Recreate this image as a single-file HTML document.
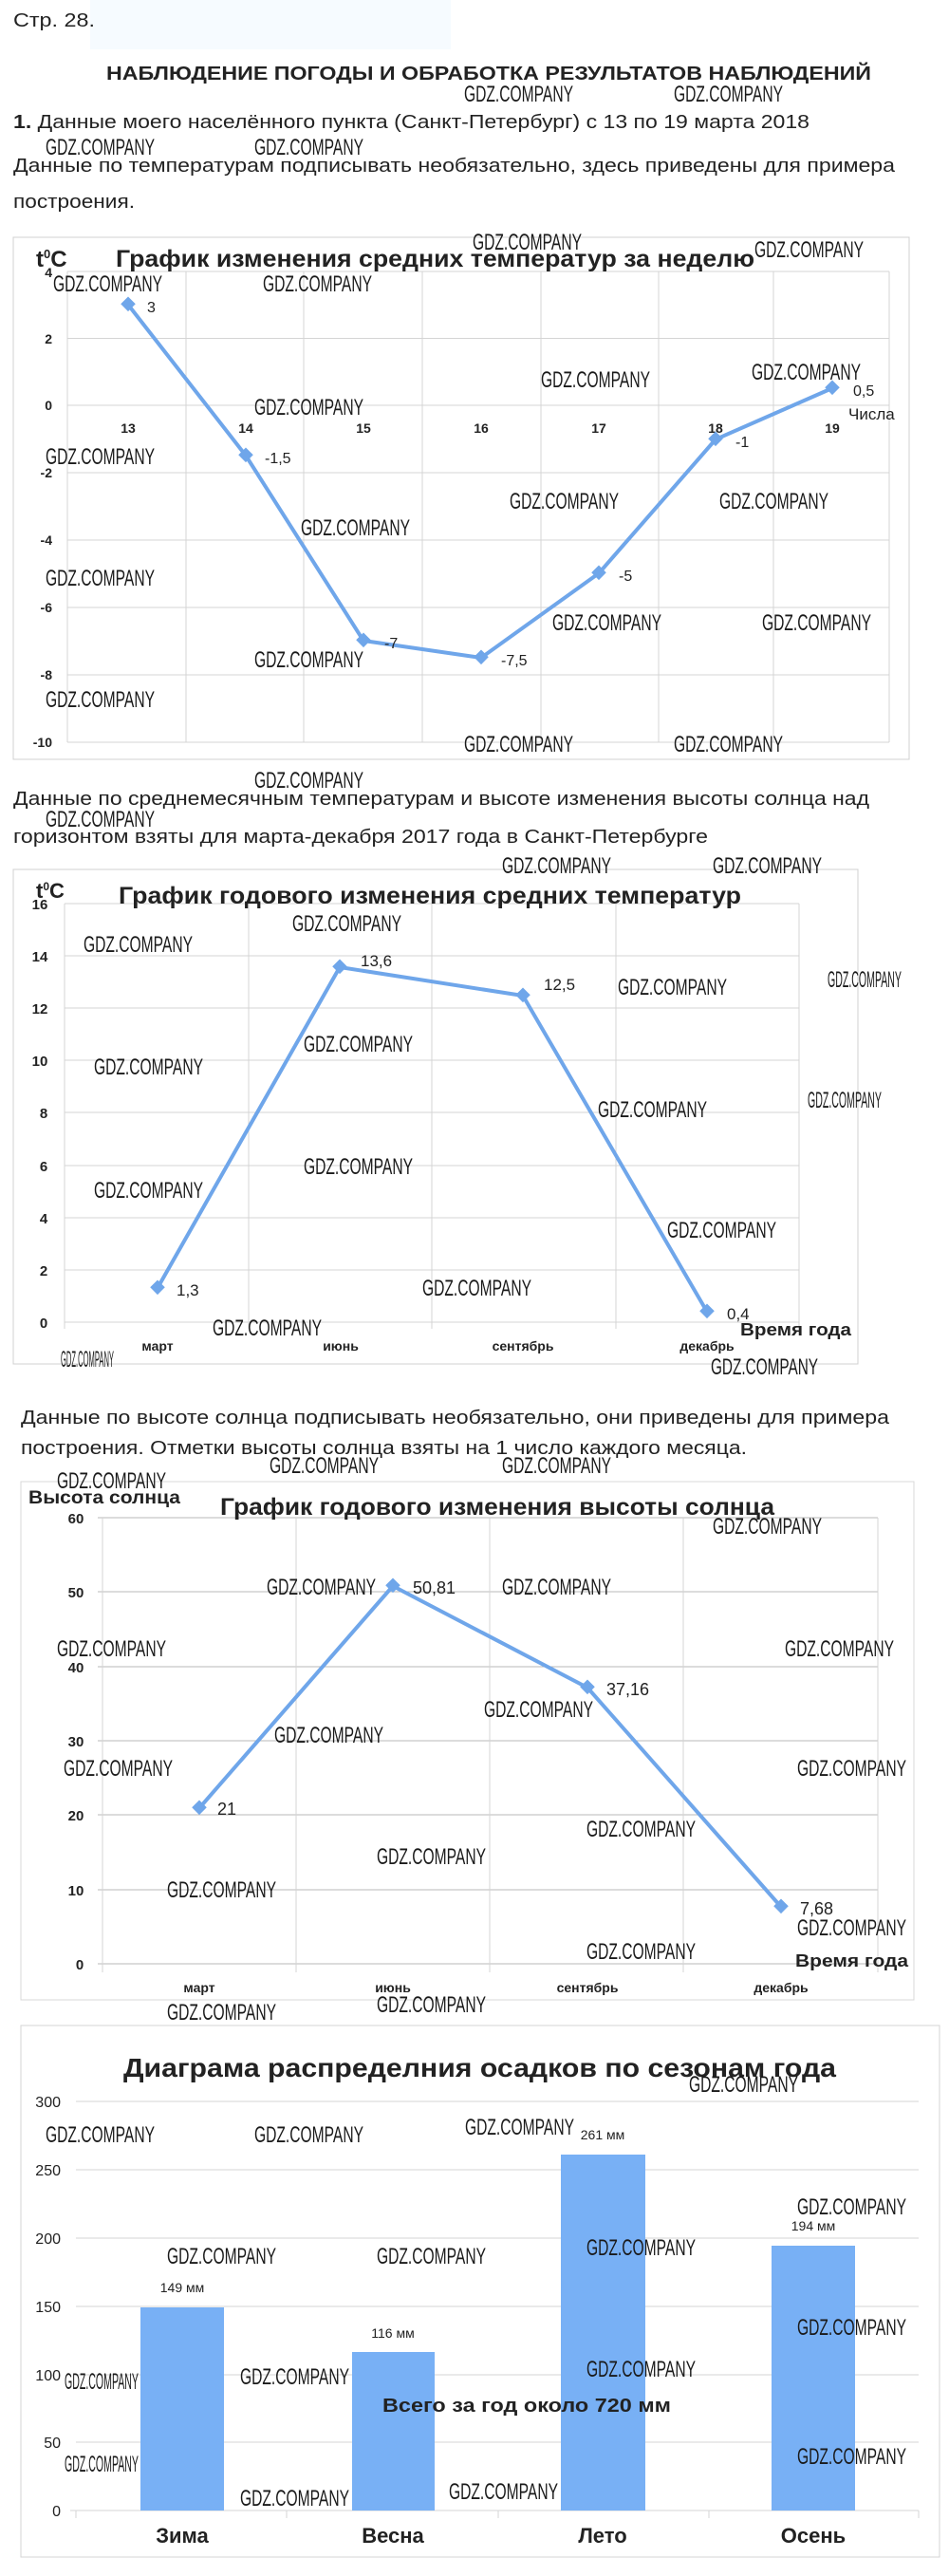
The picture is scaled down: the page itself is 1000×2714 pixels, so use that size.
<!DOCTYPE html>
<html><head><meta charset="utf-8"><style>
html,body{margin:0;padding:0;background:#fff;}
svg{display:block;}
.t{font-family:"Liberation Sans","Noto Sans CJK SC",sans-serif;fill:#222;}
.b{font-family:"Liberation Sans","Noto Sans CJK SC",sans-serif;font-weight:bold;fill:#222;}
.w{font-family:"Liberation Sans Narrow","Liberation Sans",sans-serif;fill:#1a1a1a;font-size:24px;}
.g{stroke:#d4d4d4;stroke-width:1;}
.g2{stroke:#b8b8b8;stroke-width:1;}
.ln{fill:none;stroke:#6fa6ea;stroke-width:4;stroke-linejoin:round;}
.mk{fill:#6fa6ea;}
</style></head><body>
<svg width="1000" height="2714" viewBox="0 0 1000 2714" xmlns="http://www.w3.org/2000/svg">
<rect x="0" y="0" width="1000" height="2714" fill="#fff"/>
<rect x="95" y="0" width="380" height="52" fill="#f6fbff"/>
<!-- header text -->
<text class="t" x="14" y="28" font-size="20" textLength="86" lengthAdjust="spacingAndGlyphs">Стр. 28.</text>
<text class="b" x="112" y="84" font-size="20" textLength="806" lengthAdjust="spacingAndGlyphs">НАБЛЮДЕНИЕ ПОГОДЫ И ОБРАБОТКА РЕЗУЛЬТАТОВ НАБЛЮДЕНИЙ</text>
<text class="t" x="14" y="135" font-size="20" textLength="839" lengthAdjust="spacingAndGlyphs"><tspan font-weight="bold">1.</tspan> Данные моего населённого пункта (Санкт-Петербург) с 13 по 19 марта 2018</text>
<text class="t" x="14" y="181" font-size="20" textLength="929" lengthAdjust="spacingAndGlyphs">Данные по температурам подписывать необязательно, здесь приведены для примера</text>
<text class="t" x="14" y="219" font-size="20" textLength="128" lengthAdjust="spacingAndGlyphs">построения.</text>

<!-- CHART 1 -->
<rect x="14" y="250" width="944" height="550" fill="none" stroke="#d0d0d0"/>
<g class="g">
<line x1="71" y1="286" x2="937" y2="286"/><line x1="71" y1="356.5" x2="937" y2="356.5"/><line x1="71" y1="427" x2="937" y2="427"/>
<line x1="71" y1="498" x2="937" y2="498"/><line x1="71" y1="569" x2="937" y2="569"/><line x1="71" y1="640" x2="937" y2="640"/>
<line x1="71" y1="711" x2="937" y2="711"/><line x1="71" y1="782" x2="937" y2="782"/>
<line x1="71" y1="286" x2="71" y2="782"/><line x1="196" y1="286" x2="196" y2="782"/><line x1="320" y1="286" x2="320" y2="782"/>
<line x1="445" y1="286" x2="445" y2="782"/><line x1="570" y1="286" x2="570" y2="782"/><line x1="694" y1="286" x2="694" y2="782"/>
<line x1="815" y1="286" x2="815" y2="782"/><line x1="937" y1="286" x2="937" y2="782"/>
</g>
<g class="b" font-size="14" text-anchor="end">
<text x="55" y="292">4</text><text x="55" y="362">2</text><text x="55" y="432">0</text><text x="55" y="503">-2</text>
<text x="55" y="574">-4</text><text x="55" y="645">-6</text><text x="55" y="716">-8</text><text x="55" y="787">-10</text>
</g>
<text class="b" x="38" y="281" font-size="24">t<tspan font-size="13" dy="-9">0</tspan><tspan dy="9">C</tspan></text>
<text class="b" x="122" y="281" font-size="25" textLength="673" lengthAdjust="spacingAndGlyphs">График изменения средних температур за неделю</text>
<g class="b" font-size="14" text-anchor="middle">
<text x="135" y="456">13</text><text x="259" y="456">14</text><text x="383" y="456">15</text><text x="507" y="456">16</text>
<text x="631" y="456">17</text><text x="754" y="456">18</text><text x="877" y="456">19</text>
</g>
<text class="t" x="894" y="442" font-size="17">Числа</text>
<polyline class="ln" points="135,321 259,480 383,675 507,693 631,604 754,463 877,409"/>
<g class="mk">
<rect x="129" y="315" width="11" height="11" transform="rotate(45 135 321)"/><rect x="253" y="474" width="11" height="11" transform="rotate(45 259 480)"/>
<rect x="377" y="669" width="11" height="11" transform="rotate(45 383 675)"/><rect x="501" y="687" width="11" height="11" transform="rotate(45 507 693)"/>
<rect x="625" y="598" width="11" height="11" transform="rotate(45 631 604)"/><rect x="748" y="457" width="11" height="11" transform="rotate(45 754 463)"/>
<rect x="871" y="403" width="11" height="11" transform="rotate(45 877 409)"/>
</g>
<g class="t" font-size="16">
<text x="155" y="329">3</text><text x="279" y="488">-1,5</text><text x="405" y="683">-7</text><text x="528" y="701">-7,5</text>
<text x="652" y="612">-5</text><text x="775" y="471">-1</text><text x="899" y="417">0,5</text>
</g>

<!-- text between -->
<text class="t" x="14" y="848" font-size="20" textLength="902" lengthAdjust="spacingAndGlyphs">Данные по среднемесячным температурам и высоте изменения высоты солнца над</text>
<text class="t" x="14" y="888" font-size="20" textLength="732" lengthAdjust="spacingAndGlyphs">горизонтом взяты для марта-декабря 2017 года в Санкт-Петербурге</text>

<!-- CHART 2 -->
<rect x="14" y="916" width="890" height="521" fill="none" stroke="#d0d0d0"/>
<g class="g">
<line x1="68" y1="952" x2="842" y2="952"/><line x1="68" y1="1007" x2="842" y2="1007"/><line x1="68" y1="1062" x2="842" y2="1062"/>
<line x1="68" y1="1117" x2="842" y2="1117"/><line x1="68" y1="1172" x2="842" y2="1172"/><line x1="68" y1="1228" x2="842" y2="1228"/>
<line x1="68" y1="1283" x2="842" y2="1283"/><line x1="68" y1="1338" x2="842" y2="1338"/><line x1="68" y1="1393" x2="842" y2="1393"/>
<line x1="68" y1="952" x2="68" y2="1400"/><line x1="262" y1="952" x2="262" y2="1400"/><line x1="455" y1="952" x2="455" y2="1400"/>
<line x1="649" y1="952" x2="649" y2="1400"/><line x1="842" y1="952" x2="842" y2="1400"/>
</g>
<g class="b" font-size="15" text-anchor="middle">
<text x="42" y="958">16</text><text x="42" y="1013">14</text><text x="42" y="1068">12</text><text x="42" y="1123">10</text>
<text x="46" y="1178">8</text><text x="46" y="1234">6</text><text x="46" y="1289">4</text><text x="46" y="1344">2</text><text x="46" y="1399">0</text>
</g>
<text class="b" x="38" y="946" font-size="22">t<tspan font-size="12" dy="-8">0</tspan><tspan dy="8">C</tspan></text>
<text class="b" x="125" y="952" font-size="25" textLength="656" lengthAdjust="spacingAndGlyphs">График годового изменения средних температур</text>
<g class="b" font-size="14" text-anchor="middle">
<text x="166" y="1423">март</text><text x="359" y="1423">июнь</text><text x="551" y="1423">сентябрь</text><text x="745" y="1423">декабрь</text>
</g>
<text class="b" x="780" y="1407" font-size="18" textLength="117" lengthAdjust="spacingAndGlyphs">Время года</text>
<polyline class="ln" points="166,1357 358,1019 551,1049 745,1382"/>
<g class="mk">
<rect x="160" y="1351" width="11" height="11" transform="rotate(45 166 1357)"/><rect x="352" y="1013" width="11" height="11" transform="rotate(45 358 1019)"/>
<rect x="545" y="1043" width="11" height="11" transform="rotate(45 551 1049)"/><rect x="739" y="1376" width="11" height="11" transform="rotate(45 745 1382)"/>
</g>
<g class="t" font-size="17">
<text x="186" y="1365">1,3</text><text x="380" y="1018">13,6</text><text x="573" y="1043">12,5</text><text x="766" y="1390">0,4</text>
</g>

<text class="t" x="22" y="1500" font-size="20" textLength="915" lengthAdjust="spacingAndGlyphs">Данные по высоте солнца подписывать необязательно, они приведены для примера</text>
<text class="t" x="22" y="1532" font-size="20" textLength="765" lengthAdjust="spacingAndGlyphs">построения. Отметки высоты солнца взяты на 1 число каждого месяца.</text>

<!-- CHART 3 -->
<rect x="22" y="1561" width="941" height="546" fill="none" stroke="#d8d8d8"/>
<g class="g2">
<line x1="103" y1="1599" x2="925" y2="1599"/><line x1="103" y1="1677" x2="925" y2="1677"/><line x1="103" y1="1756" x2="925" y2="1756"/>
<line x1="103" y1="1834" x2="925" y2="1834"/><line x1="103" y1="1912" x2="925" y2="1912"/><line x1="103" y1="1991" x2="925" y2="1991"/>
<line x1="103" y1="2069" x2="925" y2="2069"/>
</g>
<g class="g">
<line x1="108" y1="1599" x2="108" y2="2078"/><line x1="312" y1="1599" x2="312" y2="2078"/><line x1="516" y1="1599" x2="516" y2="2078"/>
<line x1="720" y1="1599" x2="720" y2="2078"/><line x1="925" y1="1599" x2="925" y2="2078"/>
</g>
<g class="b" font-size="15" text-anchor="middle">
<text x="80" y="1605">60</text><text x="80" y="1683">50</text><text x="80" y="1762">40</text><text x="80" y="1840">30</text>
<text x="80" y="1918">20</text><text x="80" y="1997">10</text><text x="84" y="2075">0</text>
</g>
<text class="b" x="30" y="1584" font-size="19" textLength="160" lengthAdjust="spacingAndGlyphs">Высота солнца</text>
<text class="b" x="232" y="1596" font-size="25" textLength="584" lengthAdjust="spacingAndGlyphs">График годового изменения высоты солнца</text>
<g class="b" font-size="14" text-anchor="middle">
<text x="210" y="2099">март</text><text x="414" y="2099">июнь</text><text x="619" y="2099">сентябрь</text><text x="823" y="2099">декабрь</text>
</g>
<text class="b" x="838" y="2072" font-size="18" textLength="119" lengthAdjust="spacingAndGlyphs">Время года</text>
<polyline class="ln" points="210,1905 414,1671 619,1778 823,2009"/>
<g class="mk">
<rect x="204" y="1899" width="11" height="11" transform="rotate(45 210 1905)"/><rect x="408" y="1665" width="11" height="11" transform="rotate(45 414 1671)"/>
<rect x="613" y="1772" width="11" height="11" transform="rotate(45 619 1778)"/><rect x="817" y="2003" width="11" height="11" transform="rotate(45 823 2009)"/>
</g>
<g class="t" font-size="18">
<text x="229" y="1912">21</text><text x="435" y="1679">50,81</text><text x="639" y="1786">37,16</text><text x="843" y="2017">7,68</text>
</g>

<!-- CHART 4 -->
<rect x="22" y="2134" width="968" height="560" fill="none" stroke="#d4d4d4"/>
<text class="b" x="130" y="2188" font-size="28" textLength="751" lengthAdjust="spacingAndGlyphs">Диаграма распределния осадков по сезонам года</text>
<g class="g">
<line x1="80" y1="2214" x2="968" y2="2214"/><line x1="80" y1="2286" x2="968" y2="2286"/><line x1="80" y1="2358" x2="968" y2="2358"/>
<line x1="80" y1="2430" x2="968" y2="2430"/><line x1="80" y1="2502" x2="968" y2="2502"/><line x1="80" y1="2573" x2="968" y2="2573"/>
<line x1="74" y1="2645" x2="968" y2="2645"/>
<line x1="80" y1="2645" x2="80" y2="2653"/><line x1="302" y1="2645" x2="302" y2="2653"/><line x1="525" y1="2645" x2="525" y2="2653"/>
<line x1="747" y1="2645" x2="747" y2="2653"/><line x1="968" y1="2645" x2="968" y2="2653"/>
</g>
<g class="t" font-size="16" text-anchor="end" fill="#333">
<text x="64" y="2220">300</text><text x="64" y="2292">250</text><text x="64" y="2364">200</text><text x="64" y="2436">150</text>
<text x="64" y="2508">100</text><text x="64" y="2579">50</text><text x="64" y="2651">0</text>
</g>
<g fill="#78b0f5">
<rect x="148" y="2431" width="88" height="214"/><rect x="371" y="2478" width="87" height="167"/>
<rect x="591" y="2270" width="89" height="375"/><rect x="813" y="2366" width="88" height="279"/>
</g>
<g class="t" font-size="14" text-anchor="middle" fill="#333">
<text x="192" y="2415">149 мм</text><text x="414" y="2463">116 мм</text><text x="635" y="2254">261 мм</text><text x="857" y="2350">194 мм</text>
</g>
<text class="b" x="555" y="2541" font-size="20" text-anchor="middle" textLength="304" lengthAdjust="spacingAndGlyphs">Всего за год около 720 мм</text>
<g class="b" font-size="22" text-anchor="middle">
<text x="192" y="2679">Зима</text><text x="414" y="2679">Весна</text><text x="635" y="2679">Лето</text><text x="857" y="2679">Осень</text>
</g>

<!-- watermarks -->
<g class="w" textLength="115" lengthAdjust="spacingAndGlyphs">
<text x="489" y="107" textLength="115" lengthAdjust="spacingAndGlyphs">GDZ.COMPANY</text>
<text x="710" y="107" textLength="115" lengthAdjust="spacingAndGlyphs">GDZ.COMPANY</text>
<text x="48" y="163" textLength="115" lengthAdjust="spacingAndGlyphs">GDZ.COMPANY</text>
<text x="268" y="163" textLength="115" lengthAdjust="spacingAndGlyphs">GDZ.COMPANY</text>
<text x="498" y="263" textLength="115" lengthAdjust="spacingAndGlyphs">GDZ.COMPANY</text>
<text x="795" y="271" textLength="115" lengthAdjust="spacingAndGlyphs">GDZ.COMPANY</text>
<text x="56" y="307" textLength="115" lengthAdjust="spacingAndGlyphs">GDZ.COMPANY</text>
<text x="277" y="307" textLength="115" lengthAdjust="spacingAndGlyphs">GDZ.COMPANY</text>
<text x="570" y="408" textLength="115" lengthAdjust="spacingAndGlyphs">GDZ.COMPANY</text>
<text x="792" y="400" textLength="115" lengthAdjust="spacingAndGlyphs">GDZ.COMPANY</text>
<text x="268" y="437" textLength="115" lengthAdjust="spacingAndGlyphs">GDZ.COMPANY</text>
<text x="48" y="489" textLength="115" lengthAdjust="spacingAndGlyphs">GDZ.COMPANY</text>
<text x="537" y="536" textLength="115" lengthAdjust="spacingAndGlyphs">GDZ.COMPANY</text>
<text x="758" y="536" textLength="115" lengthAdjust="spacingAndGlyphs">GDZ.COMPANY</text>
<text x="317" y="564" textLength="115" lengthAdjust="spacingAndGlyphs">GDZ.COMPANY</text>
<text x="48" y="617" textLength="115" lengthAdjust="spacingAndGlyphs">GDZ.COMPANY</text>
<text x="582" y="664" textLength="115" lengthAdjust="spacingAndGlyphs">GDZ.COMPANY</text>
<text x="803" y="664" textLength="115" lengthAdjust="spacingAndGlyphs">GDZ.COMPANY</text>
<text x="268" y="703" textLength="115" lengthAdjust="spacingAndGlyphs">GDZ.COMPANY</text>
<text x="48" y="745" textLength="115" lengthAdjust="spacingAndGlyphs">GDZ.COMPANY</text>
<text x="489" y="792" textLength="115" lengthAdjust="spacingAndGlyphs">GDZ.COMPANY</text>
<text x="710" y="792" textLength="115" lengthAdjust="spacingAndGlyphs">GDZ.COMPANY</text>
<text x="268" y="830" textLength="115" lengthAdjust="spacingAndGlyphs">GDZ.COMPANY</text>
<text x="48" y="871" textLength="115" lengthAdjust="spacingAndGlyphs">GDZ.COMPANY</text>
<text x="529" y="920" textLength="115" lengthAdjust="spacingAndGlyphs">GDZ.COMPANY</text>
<text x="751" y="920" textLength="115" lengthAdjust="spacingAndGlyphs">GDZ.COMPANY</text>
<text x="308" y="981" textLength="115" lengthAdjust="spacingAndGlyphs">GDZ.COMPANY</text>
<text x="88" y="1003" textLength="115" lengthAdjust="spacingAndGlyphs">GDZ.COMPANY</text>
<text x="651" y="1048" textLength="115" lengthAdjust="spacingAndGlyphs">GDZ.COMPANY</text>
<text x="320" y="1108" textLength="115" lengthAdjust="spacingAndGlyphs">GDZ.COMPANY</text>
<text x="99" y="1132" textLength="115" lengthAdjust="spacingAndGlyphs">GDZ.COMPANY</text>
<text x="630" y="1177" textLength="115" lengthAdjust="spacingAndGlyphs">GDZ.COMPANY</text>
<text x="320" y="1237" textLength="115" lengthAdjust="spacingAndGlyphs">GDZ.COMPANY</text>
<text x="99" y="1262" textLength="115" lengthAdjust="spacingAndGlyphs">GDZ.COMPANY</text>
<text x="703" y="1304" textLength="115" lengthAdjust="spacingAndGlyphs">GDZ.COMPANY</text>
<text x="445" y="1365" textLength="115" lengthAdjust="spacingAndGlyphs">GDZ.COMPANY</text>
<text x="224" y="1407" textLength="115" lengthAdjust="spacingAndGlyphs">GDZ.COMPANY</text>
<text x="749" y="1448" textLength="113" lengthAdjust="spacingAndGlyphs">GDZ.COMPANY</text>
<text x="284" y="1552" textLength="115" lengthAdjust="spacingAndGlyphs">GDZ.COMPANY</text>
<text x="529" y="1552" textLength="115" lengthAdjust="spacingAndGlyphs">GDZ.COMPANY</text>
<text x="60" y="1568" textLength="115" lengthAdjust="spacingAndGlyphs">GDZ.COMPANY</text>
<text x="751" y="1616" textLength="115" lengthAdjust="spacingAndGlyphs">GDZ.COMPANY</text>
<text x="281" y="1680" textLength="115" lengthAdjust="spacingAndGlyphs">GDZ.COMPANY</text>
<text x="529" y="1680" textLength="115" lengthAdjust="spacingAndGlyphs">GDZ.COMPANY</text>
<text x="60" y="1745" textLength="115" lengthAdjust="spacingAndGlyphs">GDZ.COMPANY</text>
<text x="827" y="1745" textLength="115" lengthAdjust="spacingAndGlyphs">GDZ.COMPANY</text>
<text x="510" y="1809" textLength="115" lengthAdjust="spacingAndGlyphs">GDZ.COMPANY</text>
<text x="289" y="1836" textLength="115" lengthAdjust="spacingAndGlyphs">GDZ.COMPANY</text>
<text x="67" y="1871" textLength="115" lengthAdjust="spacingAndGlyphs">GDZ.COMPANY</text>
<text x="840" y="1871" textLength="115" lengthAdjust="spacingAndGlyphs">GDZ.COMPANY</text>
<text x="618" y="1935" textLength="115" lengthAdjust="spacingAndGlyphs">GDZ.COMPANY</text>
<text x="397" y="1964" textLength="115" lengthAdjust="spacingAndGlyphs">GDZ.COMPANY</text>
<text x="176" y="1999" textLength="115" lengthAdjust="spacingAndGlyphs">GDZ.COMPANY</text>
<text x="840" y="2039" textLength="115" lengthAdjust="spacingAndGlyphs">GDZ.COMPANY</text>
<text x="618" y="2064" textLength="115" lengthAdjust="spacingAndGlyphs">GDZ.COMPANY</text>
<text x="397" y="2120" textLength="115" lengthAdjust="spacingAndGlyphs">GDZ.COMPANY</text>
<text x="176" y="2128" textLength="115" lengthAdjust="spacingAndGlyphs">GDZ.COMPANY</text>
<text x="726" y="2204" textLength="115" lengthAdjust="spacingAndGlyphs">GDZ.COMPANY</text>
<text x="490" y="2249" textLength="115" lengthAdjust="spacingAndGlyphs">GDZ.COMPANY</text>
<text x="48" y="2257" textLength="115" lengthAdjust="spacingAndGlyphs">GDZ.COMPANY</text>
<text x="268" y="2257" textLength="115" lengthAdjust="spacingAndGlyphs">GDZ.COMPANY</text>
<text x="840" y="2333" textLength="115" lengthAdjust="spacingAndGlyphs">GDZ.COMPANY</text>
<text x="618" y="2376" textLength="115" lengthAdjust="spacingAndGlyphs">GDZ.COMPANY</text>
<text x="176" y="2385" textLength="115" lengthAdjust="spacingAndGlyphs">GDZ.COMPANY</text>
<text x="397" y="2385" textLength="115" lengthAdjust="spacingAndGlyphs">GDZ.COMPANY</text>
<text x="840" y="2460" textLength="115" lengthAdjust="spacingAndGlyphs">GDZ.COMPANY</text>
<text x="618" y="2504" textLength="115" lengthAdjust="spacingAndGlyphs">GDZ.COMPANY</text>
<text x="253" y="2512" textLength="115" lengthAdjust="spacingAndGlyphs">GDZ.COMPANY</text>
<text x="840" y="2596" textLength="115" lengthAdjust="spacingAndGlyphs">GDZ.COMPANY</text>
<text x="473" y="2633" textLength="115" lengthAdjust="spacingAndGlyphs">GDZ.COMPANY</text>
<text x="253" y="2640" textLength="115" lengthAdjust="spacingAndGlyphs">GDZ.COMPANY</text>
</g>
<g class="w" font-size="15">
<text x="872" y="1040" textLength="78" lengthAdjust="spacingAndGlyphs">GDZ.COMPANY</text>
<text x="851" y="1167" textLength="78" lengthAdjust="spacingAndGlyphs">GDZ.COMPANY</text>
<text x="68" y="2517" textLength="78" lengthAdjust="spacingAndGlyphs">GDZ.COMPANY</text>
<text x="68" y="2604" textLength="78" lengthAdjust="spacingAndGlyphs">GDZ.COMPANY</text>
</g>
<text class="w" x="64" y="1440" font-size="9" textLength="56" lengthAdjust="spacingAndGlyphs">GDZ.COMPANY</text>
</svg>
</body></html>
